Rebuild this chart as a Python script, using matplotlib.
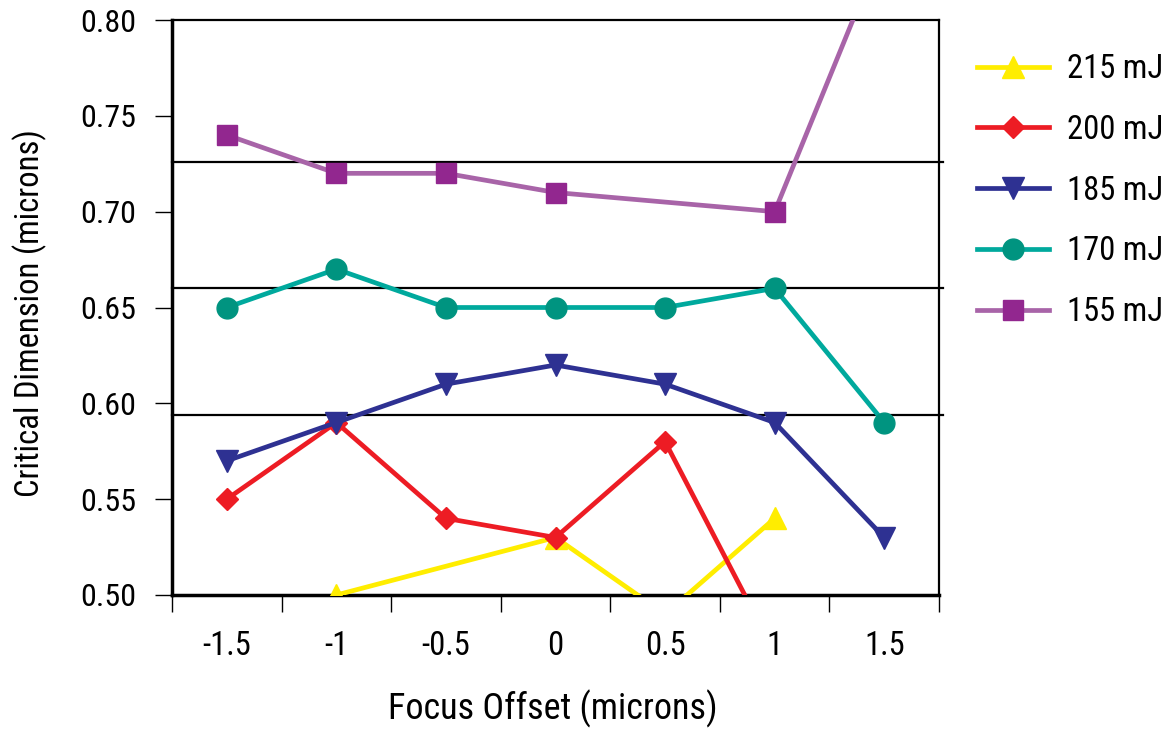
import numpy as np
import matplotlib
matplotlib.use("Agg")
import matplotlib.pyplot as plt
from matplotlib import font_manager as fm

# pick a condensed sans font if one is installed
cond = None
names = sorted({f.name for f in fm.fontManager.ttflist})
for pref in ['Liberation Sans Narrow', 'Roboto Condensed', 'Open Sans Condensed',
             'DejaVu Sans Condensed', 'Noto Sans Condensed']:
    if pref in names:
        cond = pref
        break
if cond is None:
    for f in fm.fontManager.ttflist:
        if ('Condensed' in f.name or 'Narrow' in f.name) and 'Bold' not in f.name:
            cond = f.name
            break
if cond is not None:
    plt.rcParams['font.family'] = [cond, 'DejaVu Sans']
else:
    plt.rcParams['font.family'] = ['Roboto', 'DejaVu Sans']

x_vals = [-1.5, -1.0, -0.5, 0.0, 0.5, 1.0, 1.5]
x_labels = ['-1.5', '-1', '-0.5', '0', '0.5', '1', '1.5']

s215_x = [-1.0, 0.0, 0.5, 1.0]
s215_y = [0.50, 0.53, 0.49, 0.54]
s200_x = [-1.5, -1.0, -0.5, 0.0, 0.5, 1.0]
s200_y = [0.55, 0.59, 0.54, 0.53, 0.58, 0.47]
s185_x = [-1.5, -1.0, -0.5, 0.0, 0.5, 1.0, 1.5]
s185_y = [0.57, 0.59, 0.61, 0.62, 0.61, 0.59, 0.53]
s170_x = [-1.5, -1.0, -0.5, 0.0, 0.5, 1.0, 1.5]
s170_y = [0.65, 0.67, 0.65, 0.65, 0.65, 0.66, 0.59]
s155_x = [-1.5, -1.0, -0.5, 0.0, 1.0, 1.5]
s155_y = [0.74, 0.72, 0.72, 0.71, 0.70, 0.84]

ref_levels = [0.726, 0.660, 0.594]
y_ticks = [0.50, 0.55, 0.60, 0.65, 0.70, 0.75, 0.80]

fig = plt.figure(figsize=(11.7, 7.34), dpi=100)
ax = fig.add_axes([172/1170, 139/734, (939-172)/1170, (595-20)/734])

ax.set_xlim(-1.75, 1.75)
ax.set_ylim(0.50, 0.80)

for lv in ref_levels:
    ax.plot([-1.75, 1.768], [lv, lv], color='black', lw=1.6, clip_on=False, zorder=1)

series = [
    ('215 mJ', s215_x, s215_y, '#FFED00', '#FFED00', '^', 16),
    ('200 mJ', s200_x, s200_y, '#ED1C24', '#ED1C24', 'D', 11),
    ('185 mJ', s185_x, s185_y, '#2E3192', '#2E3192', 'v', 16),
    ('170 mJ', s170_x, s170_y, '#00A99D', '#009480', 'o', 15),
    ('155 mJ', s155_x, s155_y, '#A864A8', '#92278F', 's', 14),
]
for name, xs, ys, lc, mc, mk, ms in series:
    ax.plot(xs, ys, color=lc, lw=3.4, marker=mk, markersize=ms,
            markerfacecolor=mc, markeredgecolor=mc, label=name, zorder=3)

for s in ['left', 'bottom']:
    ax.spines[s].set_linewidth(2.5)
for s in ['top', 'right']:
    ax.spines[s].set_linewidth(1.6)

ax.set_yticks(y_ticks)
ax.set_yticklabels([f'{v:.2f}' for v in y_ticks])
ax.tick_params(axis='y', direction='out', length=12, width=1, pad=14, labelsize=23)

ax.set_xticks(np.arange(-1.75, 1.76, 0.5))
ax.set_xticklabels([])
ax.set_xticks(x_vals, minor=True)
ax.set_xticklabels(x_labels, minor=True)
ax.tick_params(axis='x', which='major', direction='out', length=12, width=1)
ax.tick_params(axis='x', which='minor', length=0, pad=25, labelsize=23.5)

ax.set_xlabel('Focus Offset (microns)', fontsize=26)
ax.xaxis.set_label_coords(0.497, -0.165)
ax.set_ylabel('Critical Dimension (microns)', fontsize=23.5)
ax.yaxis.set_label_coords(-0.163, 0.49)

leg = ax.legend(loc='upper left', bbox_to_anchor=(964/1170, 1 - 40/734),
                bbox_transform=fig.transFigure, frameon=False, fontsize=23.5,
                handlelength=2.2, handletextpad=0.55, labelspacing=0.88,
                borderaxespad=0)

fig.savefig('out.png', dpi=100)
